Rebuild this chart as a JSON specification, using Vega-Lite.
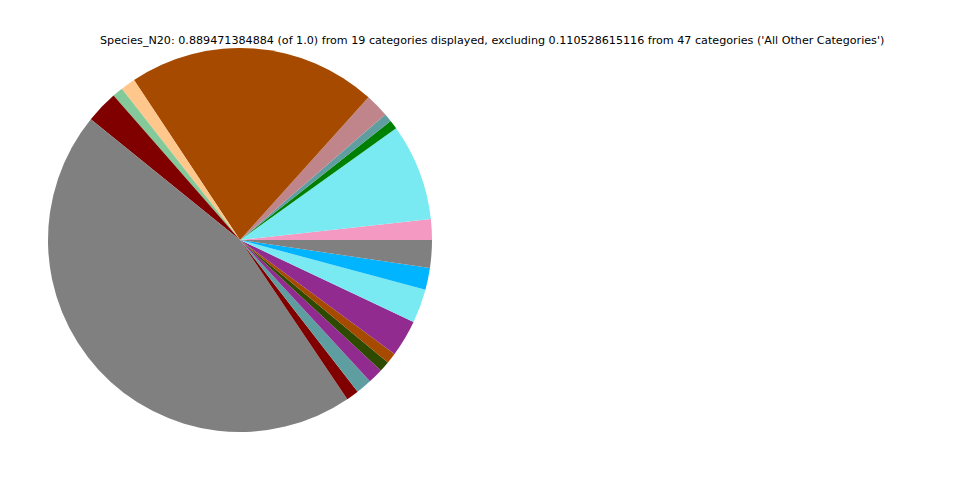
{
  "$schema": "https://vega.github.io/schema/vega-lite/v6.json",
  "autosize": "none",
  "width": 480,
  "height": 480,
  "padding": {"left": 0, "top": 0, "right": 480, "bottom": 0},
  "background": "white",
  "config": {"view": {"stroke": null}},
  "title": {
    "text": "Species_N20: 0.889471384884 (of 1.0) from 19 categories displayed, excluding 0.110528615116 from 47 categories ('All Other Categories')",
    "font": "DejaVu Sans",
    "fontSize": 11.15,
    "fontWeight": "normal",
    "color": "black",
    "anchor": "start",
    "frame": "group",
    "dx": 100,
    "offset": -55,
    "baseline": "alphabetic"
  },
  "data": {
    "values": [
      {"idx": 1, "species": "Species 01", "share": 0.01557},
      {"idx": 2, "species": "Species 02", "share": 0.0724},
      {"idx": 3, "species": "Species 03", "share": 0.00667},
      {"idx": 4, "species": "Species 04", "share": 0.00618},
      {"idx": 5, "species": "Species 05", "share": 0.01779},
      {"idx": 6, "species": "Species 06", "share": 0.18655},
      {"idx": 7, "species": "Species 07", "share": 0.01112},
      {"idx": 8, "species": "Species 08", "share": 0.00791},
      {"idx": 9, "species": "Species 09", "share": 0.02421},
      {"idx": 10, "species": "Species 10", "share": 0.40275},
      {"idx": 11, "species": "Species 11", "share": 0.00939},
      {"idx": 12, "species": "Species 12", "share": 0.01186},
      {"idx": 13, "species": "Species 13", "share": 0.01137},
      {"idx": 14, "species": "Species 14", "share": 0.00791},
      {"idx": 15, "species": "Species 15", "share": 0.00791},
      {"idx": 16, "species": "Species 16", "share": 0.02743},
      {"idx": 17, "species": "Species 17", "share": 0.02545},
      {"idx": 18, "species": "Species 18", "share": 0.01631},
      {"idx": 19, "species": "Species 19", "share": 0.02076}
    ]
  },
  "mark": {"type": "arc", "radius": 192, "stroke": null},
  "encoding": {
    "theta": {
      "field": "share",
      "type": "quantitative",
      "stack": true,
      "scale": {"range": [1.5707963, -4.712389]}
    },
    "order": {"field": "idx", "type": "quantitative", "sort": "ascending"},
    "color": {
      "field": "species",
      "type": "nominal",
      "legend": null,
      "scale": {
        "domain": ["Species 01","Species 02","Species 03","Species 04","Species 05","Species 06","Species 07","Species 08","Species 09","Species 10","Species 11","Species 12","Species 13","Species 14","Species 15","Species 16","Species 17","Species 18","Species 19"],
        "range": ["#f49ac2","#7aeaf2","#008000","#5f9ea0","#c0858a","#a64a00","#ffc78b","#84c99a","#800000","#808080","#800000","#5f9ea0","#922b8f","#2d4a00","#a64a00","#922b8f","#7aeaf2","#00b4ff","#808080"]
      }
    }
  }
}
